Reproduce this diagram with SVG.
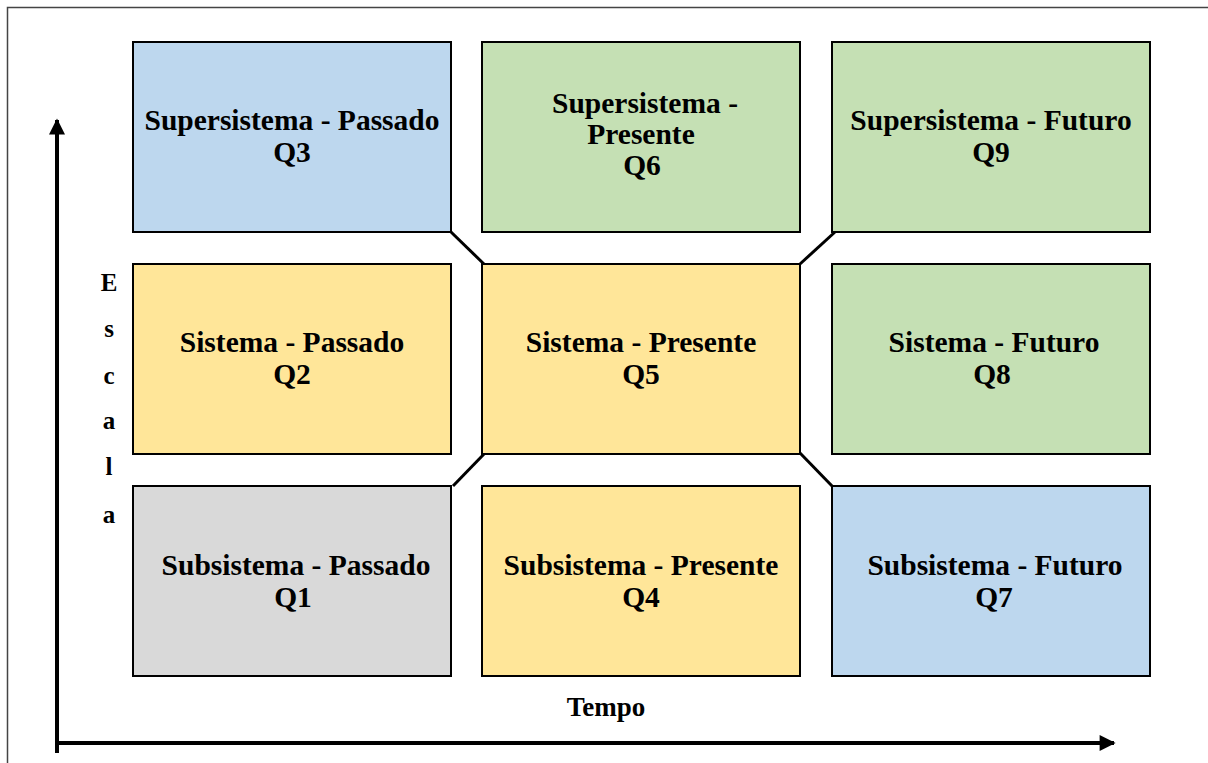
<svg xmlns="http://www.w3.org/2000/svg" width="1208" height="763" viewBox="0 0 1208 763">
  <style>
    .box { stroke: #000; stroke-width: 2; }
    .blue { fill: #BDD7EE; }
    .green { fill: #C5E0B4; }
    .yellow { fill: #FFE699; }
    .gray { fill: #D9D9D9; }
    .lbl { font-family: "Liberation Serif", "Times New Roman", serif; font-weight: bold; font-size: 29.5px; text-anchor: middle; fill: #000; }
    .axis { font-family: "Liberation Serif", "Times New Roman", serif; font-weight: bold; font-size: 25px; text-anchor: middle; fill: #000; }
    .link { stroke: #000; stroke-width: 3; fill: none; }
    .ax { stroke: #000; stroke-width: 4; fill: none; }
  </style>
  <defs>
    <marker id="arrow" viewBox="0 0 10 10" refX="9" refY="5" markerWidth="4.2" markerHeight="4" orient="auto" markerUnits="strokeWidth">
      <path d="M0,0 L10,5 L0,10 Z" fill="#000"/>
    </marker>
  </defs>

  <rect width="1208" height="763" fill="#fff"/>
  <!-- outer frame -->
  <path d="M7.5,780 L7.5,7.5 L1230,7.5" stroke="#444" stroke-width="1.5" fill="none"/>

  <!-- axes -->
  <g id="axes">
    <line class="ax" x1="57" y1="753" x2="57" y2="120" marker-end="url(#arrow)"/>
    <line class="ax" x1="55" y1="743" x2="1114" y2="743" marker-end="url(#arrow)"/>
    <g class="axis">
      <text x="109" y="291">E</text>
      <text x="109" y="337">s</text>
      <text x="109" y="384">c</text>
      <text x="109" y="429">a</text>
      <text x="109" y="475">l</text>
      <text x="109" y="523">a</text>
      <text x="606" y="716" style="font-size:27px">Tempo</text>
    </g>
  </g>

  <!-- diagonal links from the centre cell -->
  <g id="connectors">
    <line class="link" x1="451" y1="232" x2="486" y2="266"/>
    <line class="link" x1="800" y1="264" x2="835" y2="232"/>
    <line class="link" x1="453" y1="486" x2="485" y2="453"/>
    <line class="link" x1="800" y1="453" x2="833" y2="487"/>
  </g>

  <g id="q3">
    <rect class="box blue" x="133" y="42" width="318" height="190"/>
    <text class="lbl" x="292" y="130">Supersistema - Passado</text>
    <text class="lbl" x="292" y="162">Q3</text>
  </g>
  <g id="q6">
    <rect class="box green" x="482" y="42" width="318" height="190"/>
    <text class="lbl" x="645" y="113">Supersistema -</text>
    <text class="lbl" x="641" y="144">Presente</text>
    <text class="lbl" x="642" y="175">Q6</text>
  </g>
  <g id="q9">
    <rect class="box green" x="832" y="42" width="318" height="190"/>
    <text class="lbl" x="991" y="130">Supersistema - Futuro</text>
    <text class="lbl" x="991" y="162">Q9</text>
  </g>

  <g id="q2">
    <rect class="box yellow" x="133" y="264" width="318" height="190"/>
    <text class="lbl" x="292" y="352">Sistema - Passado</text>
    <text class="lbl" x="292" y="384">Q2</text>
  </g>
  <g id="q5">
    <rect class="box yellow" x="482" y="264" width="318" height="190"/>
    <text class="lbl" x="641" y="352">Sistema - Presente</text>
    <text class="lbl" x="641" y="384">Q5</text>
  </g>
  <g id="q8">
    <rect class="box green" x="832" y="264" width="318" height="190"/>
    <text class="lbl" x="994" y="352">Sistema - Futuro</text>
    <text class="lbl" x="992" y="384">Q8</text>
  </g>

  <g id="q1">
    <rect class="box gray" x="133" y="486" width="318" height="190"/>
    <text class="lbl" x="296" y="575">Subsistema - Passado</text>
    <text class="lbl" x="293" y="607">Q1</text>
  </g>
  <g id="q4">
    <rect class="box yellow" x="482" y="486" width="318" height="190"/>
    <text class="lbl" x="641" y="575">Subsistema - Presente</text>
    <text class="lbl" x="641" y="607">Q4</text>
  </g>
  <g id="q7">
    <rect class="box blue" x="832" y="486" width="318" height="190"/>
    <text class="lbl" x="995" y="575">Subsistema - Futuro</text>
    <text class="lbl" x="994" y="607">Q7</text>
  </g>
</svg>
